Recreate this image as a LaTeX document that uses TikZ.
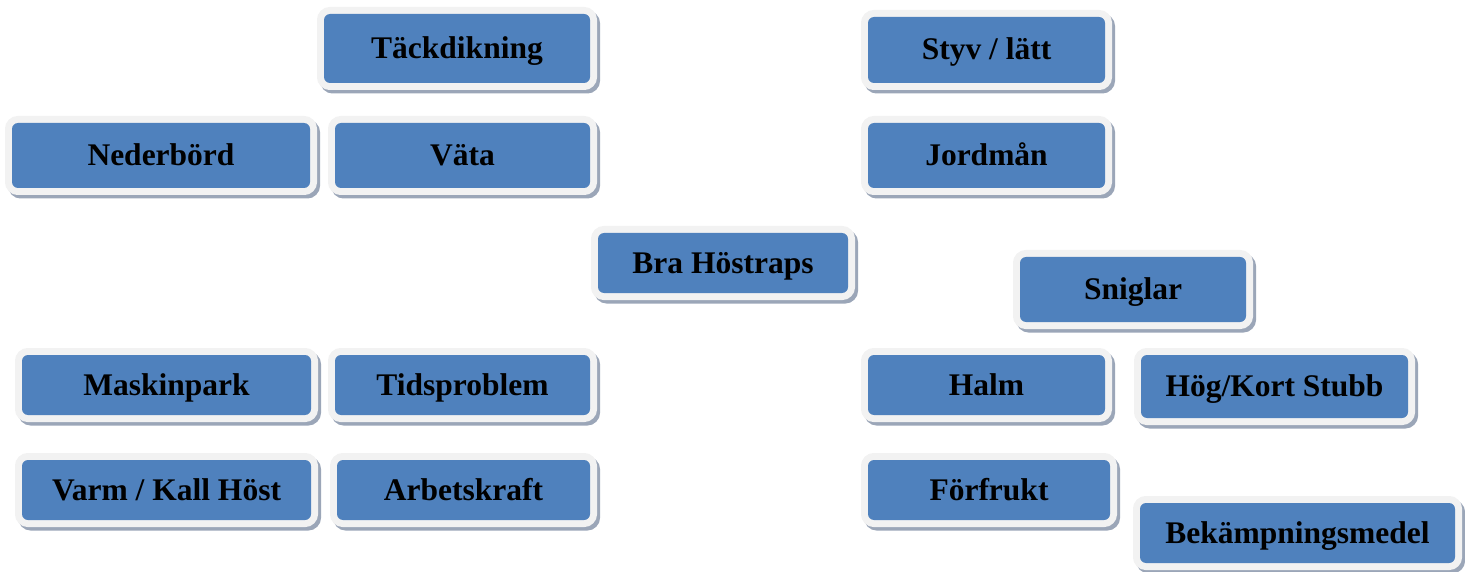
\documentclass[tikz,border=0pt]{standalone}
\usepackage{fontspec}
\setmainfont{Liberation Serif}
\definecolor{boxblue}{HTML}{4F81BD}
\definecolor{framegray}{HTML}{F2F2F2}
\definecolor{shadowgray}{HTML}{9BA6B8}
\tikzset{
  tile/.style={
    fill=boxblue, draw=none, rounded corners=6pt,
    inner sep=0pt, outer sep=0pt, text height=26pt, text depth=6pt,
    font=\fontsize{31.5}{31.5}\selectfont\bfseries, text=black,
    preaction={draw=shadowgray, line width=14pt, transform canvas={xshift=3pt,yshift=-3.5pt}},
    preaction={draw=framegray, line width=14pt}
  }
}
\begin{document}
\begin{tikzpicture}[x=1pt,y=-1pt]
\useasboundingbox (0,0) rectangle (1465,572);
\node[tile, minimum width=266pt, minimum height=69pt] (tack) at (457,48.5) {Täckdikning};
\node[tile, minimum width=237pt, minimum height=66pt] (styv) at (986.5,50) {Styv / lätt};
\node[tile, minimum width=298pt, minimum height=65pt] (ned) at (161,155.5) {Nederbörd};
\node[tile, minimum width=255pt, minimum height=65pt] (vata) at (462.5,155.5) {Väta};
\node[tile, minimum width=237pt, minimum height=65pt] (jord) at (986.5,155.5) {Jordmån};
\node[tile, minimum width=250pt, minimum height=60pt] (bra) at (723,263) {Bra Höstraps};
\node[tile, minimum width=226pt, minimum height=65pt] (snig) at (1133,289.5) {Sniglar};
\node[tile, minimum width=289pt, minimum height=60pt] (mask) at (166.5,385) {Maskinpark};
\node[tile, minimum width=255pt, minimum height=60pt] (tids) at (462.5,385) {Tidsproblem};
\node[tile, minimum width=237pt, minimum height=60pt] (halm) at (986.5,385) {Halm};
\node[tile, minimum width=267pt, minimum height=63pt] (hog) at (1274.5,386.5) {Hög/Kort Stubb};
\node[tile, minimum width=289pt, minimum height=60pt] (varm) at (166.5,490) {Varm / Kall Höst};
\node[tile, minimum width=253pt, minimum height=60pt] (arb) at (463.5,490) {Arbetskraft};
\node[tile, minimum width=242pt, minimum height=60pt] (forf) at (989,490) {Förfrukt};
\node[tile, minimum width=315pt, minimum height=60pt] (bek) at (1297.5,533) {Bekämpningsmedel};
\end{tikzpicture}
\end{document}
